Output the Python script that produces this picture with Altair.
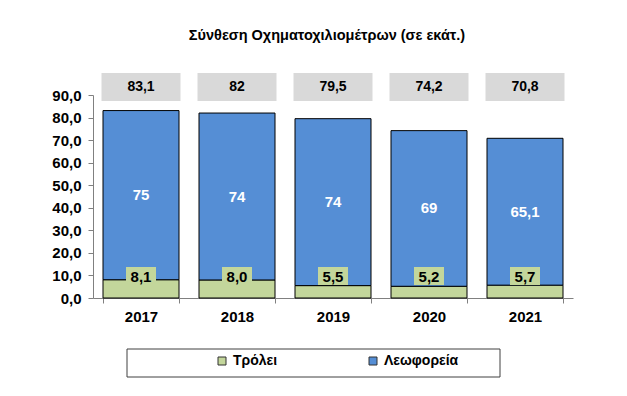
import altair as alt
import pandas as pd

years = ["2017", "2018", "2019", "2020", "2021"]
trolley = [8.1, 8.0, 5.5, 5.2, 5.7]
bus = [75, 74, 74, 69, 65.1]
totals = [83.1, 82, 79.5, 74.2, 70.8]

S_TROLLEY = "Τρόλει"
S_BUS = "Λεωφορεία"

def gfmt(v):
    return f"{v:g}".replace(".", ",")

df = pd.DataFrame({
    "year": years,
    "trolley": trolley,
    "bus": bus,
    "total": totals,
})
df["bus_mid"] = df["trolley"] + df["bus"] / 2
df["trolley_lbl"] = [f"{v:.1f}".replace(".", ",") for v in trolley]
df["bus_lbl"] = [gfmt(v) for v in bus]
df["total_lbl"] = [gfmt(v) for v in totals]

# long form for stacked bars
rows = []
for yr, t, b in zip(years, trolley, bus):
    rows.append({"year": yr, "series": S_TROLLEY, "lo": 0.0, "hi": t})
    rows.append({"year": yr, "series": S_BUS, "lo": t, "hi": t + b})
long_df = pd.DataFrame(rows)

FONT = "Liberation Sans"
GREEN = "#C3D69B"
BLUE = "#558ED5"
GREY = "#D9D9D9"

x = alt.X("year:N", title=None,
          scale=alt.Scale(paddingInner=0.2, paddingOuter=0.1),
          axis=alt.Axis(labelAngle=0, labelFont=FONT, labelFontSize=15, labelFontWeight="bold",
                        labelColor="black", tickBand="extent", tickSize=5, tickColor="#808080",
                        domainColor="#808080", labelPadding=6))
yscale = alt.Scale(domain=[0, 90], nice=False)
yaxis = alt.Axis(values=[0, 10, 20, 30, 40, 50, 60, 70, 80, 90],
                 labelExpr="replace(format(datum.value, '.1f'), '.', ',')",
                 labelFont=FONT, labelFontSize=15, labelFontWeight="bold", labelColor="black",
                 labelOverlap=False, labelBound=False,
                 tickSize=5, tickColor="#808080", domainColor="#808080", grid=False, labelPadding=7,
                 title=None)
color_scale = alt.Scale(domain=[S_TROLLEY, S_BUS], range=[GREEN, BLUE])
legend = alt.Legend(title=None, orient="none", legendX=122, legendY=259, direction="horizontal",
                    symbolType="square", symbolSize=64, symbolStrokeColor="#333", symbolStrokeWidth=1,
                    labelFont=FONT, labelFontSize=14, labelFontWeight="bold", labelColor="black",
                    columnPadding=88, labelOffset=4, padding=0)

bars = alt.Chart(long_df).mark_bar(size=76, stroke="black", strokeWidth=1).encode(
    x=x,
    y=alt.Y("lo:Q", scale=yscale, axis=yaxis),
    y2="hi:Q",
    color=alt.Color("series:N", scale=color_scale, legend=legend),
)

base = alt.Chart(df)
bus_text = base.mark_text(font=FONT, fontSize=15, fontWeight="bold", color="white").encode(
    x=x, y=alt.Y("bus_mid:Q", scale=yscale, axis=yaxis), text="bus_lbl:N")

trolley_box = base.mark_bar(size=30, color=GREEN).encode(
    x=x, y=alt.value(172), y2=alt.value(190))
trolley_text = base.mark_text(font=FONT, fontSize=15, fontWeight="bold", color="black").encode(
    x=x, y=alt.value(182), text="trolley_lbl:N")

total_box = base.mark_bar(size=79, color=GREY).encode(
    x=x, y=alt.value(-22), y2=alt.value(6))
total_text = base.mark_text(font=FONT, fontSize=14, fontWeight="bold", color="black").encode(
    x=x, y=alt.value(-8), text="total_lbl:N")

legend_box = alt.Chart(alt.Data(values=[{}])).mark_rect(fill=None, stroke="#404040", strokeWidth=1).encode(
    x=alt.value(34), x2=alt.value(407), y=alt.value(254), y2=alt.value(282))

chart = alt.layer(
    bars, bus_text, trolley_box, trolley_text, total_box, total_text, legend_box
).properties(
    width=480, height=203,
    title=alt.Title("Σύνθεση Οχηματοχιλιομέτρων (σε εκάτ.)", font=FONT, fontSize=14.5,
                    fontWeight="bold", color="black", offset=30, anchor="middle", dx=-6),
    autosize=alt.AutoSizeParams(type="none"),
    padding={"left": 85, "top": 87, "right": 46, "bottom": 90},
).configure_view(stroke=None)

chart.save("out.html", embed_options={"renderer": "svg", "actions": False})
